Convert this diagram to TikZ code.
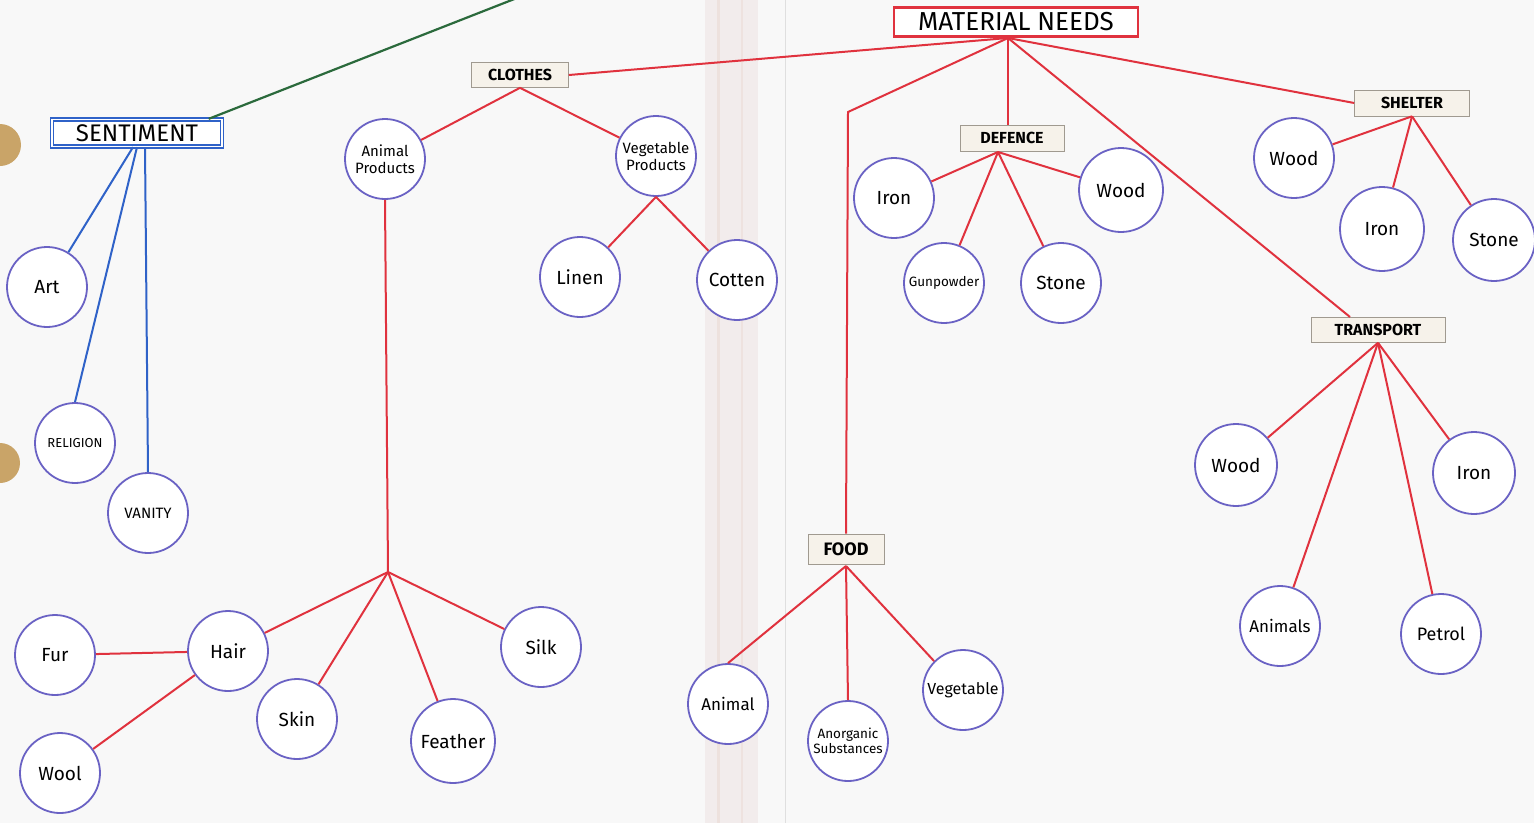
\documentclass[tikz,border=0pt]{standalone}
\usepackage{fontspec}
\setmainfont{Fira Sans}
\usetikzlibrary{calc}
\definecolor{circ}{HTML}{6A62C4}
\definecolor{linkred}{HTML}{E0323E}
\definecolor{sentblue}{HTML}{2F62C8}
\definecolor{greenline}{HTML}{2B6A3C}
\definecolor{paper}{HTML}{F6F2EA}
\definecolor{boxgray}{HTML}{A09A90}
\definecolor{bg}{HTML}{F8F8F8}
\definecolor{stain}{HTML}{EEE2E2}
\definecolor{hole}{HTML}{C9A468}
\tikzset{
  leaf/.style={circle, draw=circ, line width=1.8pt, fill=white, minimum size=80pt, inner sep=0pt, align=center, font=\fontsize{19}{21}\selectfont},
  small/.style={font=\fontsize{15}{17}\selectfont},
  tag/.style={draw=boxgray, fill=paper, line width=0.6pt, inner sep=0pt, font=\bfseries\fontsize{16}{18}\selectfont},
  link/.style={draw=linkred, line width=2pt},
  bluelink/.style={draw=sentblue, line width=2pt},
}
\begin{document}
\begin{tikzpicture}[x=1pt,y=-1pt]
\useasboundingbox (0,0) rectangle (1534,823);
\clip (0,0) rectangle (1534,823);
\fill[bg] (0,0) rectangle (1534,823);
% paper fold / stain
\fill[stain, opacity=0.5] (705,0) rectangle (758,823);
\draw[stain!80!brown, opacity=0.35, line width=3pt] (718,0) -- (718,823);
\draw[stain!80!brown, opacity=0.3, line width=2pt] (742,0) -- (742,823);
\draw[gray!25, line width=1pt] (785,0) -- (785,823);
% binder holes
\fill[hole] (0,145) circle (21);
\fill[hole] (0,463) circle (20);

% header boxes
\node[draw=linkred, line width=2.5pt, fill=white, minimum width=244pt, minimum height=29pt, inner sep=0pt, font=\fontsize{26}{28}\selectfont] (mn) at (1016,22) {MATERIAL NEEDS};
\node[draw=sentblue, double=white, double distance=1.5pt, line width=1.3pt, fill=white, minimum width=170pt, minimum height=27pt, inner sep=0pt, font=\fontsize{24}{26}\selectfont] (sent) at (137,133) {SENTIMENT};
\node[tag, minimum width=97pt, minimum height=25pt] (clothes) at (520,75) {CLOTHES};
\node[tag, minimum width=115pt, minimum height=26pt] (shelter) at (1412,103) {SHELTER};
\node[tag, minimum width=104pt, minimum height=26pt] (defence) at (1012,138) {DEFENCE};
\node[tag, minimum width=134pt, minimum height=25pt] (transport) at (1378,330) {TRANSPORT};
\node[tag, minimum width=76pt, minimum height=30pt, font=\bfseries\fontsize{18}{20}\selectfont] (food) at (846,549) {FOOD};

% sentiment leaves
\node[leaf] (art) at (47,287) {Art};
\node[leaf, font=\fontsize{13}{15}\selectfont] (religion) at (75,443) {RELIGION};
\node[leaf, font=\fontsize{15}{17}\selectfont] (vanity) at (148,513) {VANITY};

% clothes
\node[leaf, small] (aprod) at (385,159) {Animal\\Products};
\node[leaf, small] (vprod) at (656,156) {Vegetable\\Products};
\node[leaf] (linen) at (580,277) {Linen};
\node[leaf] (cotten) at (737,280) {Cotten};
\node[leaf] (fur) at (55,655) {Fur};
\node[leaf] (hair) at (228,651) {Hair};
\node[leaf] (wool) at (60,773) {Wool};
\node[leaf] (skin) at (297,719) {Skin};
\node[leaf, minimum size=84pt] (feather) at (453,741) {Feather};
\node[leaf] (silk) at (541,647) {Silk};

% food
\node[leaf, font=\fontsize{17}{19}\selectfont] (fanimal) at (728,704) {Animal};
\node[leaf, font=\fontsize{13.5}{15.5}\selectfont] (anorg) at (848,741) {Anorganic\\Substances};
\node[leaf, font=\fontsize{16}{18}\selectfont] (fveg) at (963,690) {Vegetable};

% defence
\node[leaf] (diron) at (894,198) {Iron};
\node[leaf, minimum size=84pt] (dwood) at (1121,190) {Wood};
\node[leaf, font=\fontsize{13.5}{15}\selectfont] (gunp) at (944,283) {Gunpowder};
\node[leaf] (dstone) at (1061,283) {Stone};

% shelter
\node[leaf] (swood) at (1294,158) {Wood};
\node[leaf, minimum size=84pt] (siron) at (1382,229) {Iron};
\node[leaf, minimum size=82pt] (sstone) at (1494,240) {Stone};

% transport
\node[leaf, minimum size=82pt] (twood) at (1236,465) {Wood};
\node[leaf, minimum size=82pt] (tiron) at (1474,473) {Iron};
\node[leaf, font=\fontsize{17}{19}\selectfont] (animals) at (1280,626) {Animals};
\node[leaf, font=\fontsize{18}{20}\selectfont] (petrol) at (1441,634) {Petrol};

% junction coordinates
\coordinate (gtop) at (522,-4);
\coordinate (mnj) at (1008,38);
\coordinate (fbend) at (848,112);
\coordinate (tin) at (1350,317);
\coordinate (aj) at (388,572);
\coordinate (dj) at (998,152);
\coordinate (fj) at (846,566);

% green line off the top
\draw[greenline, line width=2.2pt] ($(sent.north east)+(-14,0)$) -- (gtop);

% sentiment links
\draw[bluelink] ($(sent.south)+(-4,0)$) -- (art);
\draw[bluelink] (sent.south) -- (religion.north);
\draw[bluelink] ($(sent.south)+(8,0)$) -- (vanity.north);

% material needs links
\draw[link] (clothes.east) -- (mnj);
\draw[link] (mnj) -- (fbend) -- (food.north);
\draw[link] (mnj) -- (mnj |- defence.north);
\draw[link] (mnj) -- (tin);
\draw[link] (mnj) -- (shelter.west);

% clothes links
\draw[link] (clothes.south) -- (aprod);
\draw[link] (clothes.south) -- (vprod);
\draw[link] (vprod.south) -- (linen);
\draw[link] (vprod.south) -- (cotten);
\draw[link] (aprod.south) -- (aj);
\draw[link] (aj) -- (hair);
\draw[link] (aj) -- (skin);
\draw[link] (aj) -- (feather);
\draw[link] (aj) -- (silk);
\draw[link] (hair) -- (fur);
\draw[link] (hair) -- (wool);

% food links
\draw[link] (fj) -- (fanimal.north);
\draw[link] (fj) -- (anorg.north);
\draw[link] (fj) -- (fveg.north west);

% defence links
\draw[link] (dj) -- (diron);
\draw[link] (dj) -- (gunp);
\draw[link] (dj) -- (dstone);
\draw[link] (dj) -- (dwood);

% shelter links
\draw[link] (shelter.south) -- (swood);
\draw[link] (shelter.south) -- (siron);
\draw[link] (shelter.south) -- (sstone);

% transport links
\draw[link] (transport.south) -- (twood);
\draw[link] (transport.south) -- (animals);
\draw[link] (transport.south) -- (petrol);
\draw[link] (transport.south) -- (tiron);
\end{tikzpicture}
\end{document}
